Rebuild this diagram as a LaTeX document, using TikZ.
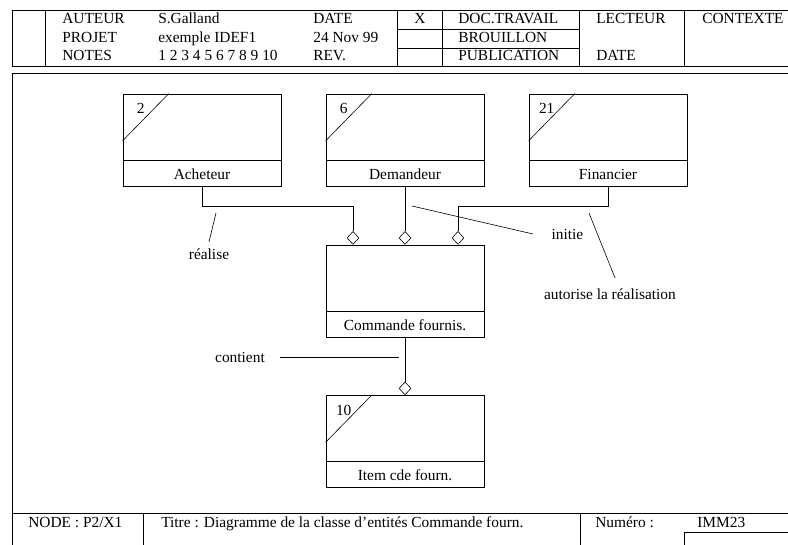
\documentclass[tikz,border=0pt]{standalone}
\usepackage{fontspec}
\setmainfont{Liberation Serif}
\usetikzlibrary{calc,positioning,shapes.geometric}
\tikzset{
	entite/.style={draw, rectangle, inner sep=0pt, minimum width=158pt, minimum height=92pt},
	losange/.style={draw, diamond, fill=white, inner sep=0pt, minimum width=12pt, minimum height=13pt},
	cadre/.style={anchor=base west, inner sep=0pt},
}
\def\entite(#1)(#2,#3)#4#5{%
	\node[entite] (#1) at (#2,#3) {};
	\draw ($(#1.south west)+(0,-26)$) -- ($(#1.south east)+(0,-26)$);
	\draw ($(#1.north west)+(46,0)$) -- ($(#1.north west)+(0,47)$);
	\node (#1-num) at ($(#1.north west)+(18,15)$) {#4};
	\node[text height=10pt, text depth=3pt] (#1-nom) at ($(#1.south)+(0,-10.5)$) {#5};
}

\begin{document}
\begin{tikzpicture}[x=1pt, y=-1pt, line width=0.6pt, font=\fontsize{15.4}{18}\selectfont]
		%%%%% START %%%%%
		\useasboundingbox (0,0) rectangle (788,545);
		
		% cartouche du haut
		\draw (12, 10) rectangle (800, 66);
		\draw (45, 10) -- (45, 66);
		\draw (397, 10) -- (397, 66);
		\draw (442, 10) -- (442, 66);
		\draw (579, 10) -- (579, 66);
		\draw (684, 10) -- (684, 66);
		\draw (397, 29) -- (579, 29);
		\draw (397, 48) -- (579, 48);
		
		\node[cadre] (aut) at (62, 24) {AUTEUR};
		\node[cadre] (aut-v) at (158, 24) {S.Galland};
		\node[cadre] (dat) at (313, 24) {DATE};
		\node[cadre] (prj) at (62, 42.5) {PROJET};
		\node[cadre] (prj-v) at (158, 42.5) {exemple IDEF1};
		\node[cadre] (dat-v) at (313, 42.5) {24 Nov 99};
		\node[cadre] (not) at (62, 61) {NOTES};
		\node[cadre] (not-v) at (158, 61) {1 2 3 4 5 6 7 8 9 10};
		\node[cadre] (rev) at (313, 61) {REV.};
		\node[cadre, anchor=base] (x) at (420, 24) {X};
		\node[cadre] (trav) at (458, 24) {DOC.TRAVAIL};
		\node[cadre] (brou) at (458, 42.5) {BROUILLON};
		\node[cadre] (pub) at (458, 61) {PUBLICATION};
		\node[cadre] (lect) at (596, 24) {LECTEUR};
		\node[cadre] (lect-d) at (596, 61) {DATE};
		\node[cadre] (ctx) at (702, 24) {CONTEXTE};
		
		% cadre principal et cartouche du bas
		\draw (800, 73) -- (12, 73) -- (12, 560);
		\draw (12, 513) -- (800, 513);
		\draw (143, 513) -- (143, 560);
		\draw (580, 513) -- (580, 560);
		\draw (684, 560) -- (684, 532) -- (800, 532);
		
		\node[cadre] (noeud) at (28, 527) {NODE : P2/X1};
		\node[cadre] (titre) at (161, 527) {Titre : Diagramme de la classe d'entit\'es Commande fourn.};
		\node[cadre] (num) at (595, 527) {Num\'ero :};
		\node[cadre] (num-v) at (697, 527) {IMM23};
		
		% entites
		\entite(ach)(202, 140){2}{Acheteur}
		\entite(dem)(405, 140){6}{Demandeur}
		\entite(fin)(608, 140){21}{Financier}
		\entite(item)(405, 441.5){10}{Item cde fourn.}
		
		\node[entite] (cmd) at (405, 291) {};
		\draw ($(cmd.south west)+(0,-26)$) -- ($(cmd.south east)+(0,-26)$);
		\node[text height=10pt, text depth=3pt] (cmd-nom) at ($(cmd.south)+(0,-10.5)$) {Commande fournis.};
		
		% relations
		\node[losange, anchor=south] (d1) at ([xshift=-52pt]cmd.north) {};
		\node[losange, anchor=south] (d2) at (cmd.north) {};
		\node[losange, anchor=south] (d3) at ([xshift=53pt]cmd.north) {};
		\node[losange, anchor=south] (d4) at (item.north) {};
		
		\draw (ach.south) -- ++(0, 20) -| (d1.north);
		\draw (dem.south) -- (d2.north);
		\draw (fin.south) -- ++(0, 20) -| (d3.north);
		\draw (cmd.south) -- (d4.north);
		
		% libelles
		\node (rea) at (209, 254) {r\'ealise};
		\coordinate (rea-a) at (216, 213);
		\draw (rea-a) -- ([yshift=3pt]rea.north);
		
		\node[anchor=west] (ini) at (548, 234) {initie};
		\coordinate (ini-a) at (412, 206);
		\draw (ini-a) -- ([xshift=-15pt]ini.west);
		
		\node (autr) at (610, 294) {autorise la r\'ealisation};
		\coordinate (autr-a) at (589, 213);
		\draw (autr-a) -- ([shift={(5pt,7pt)}]autr.north);
		
		\node (cont) at (240, 357) {contient};
		\coordinate (cont-a) at (399, 357);
		\draw ([xshift=12pt]cont.east) -- (cont-a);
		
		%%%%% END %%%%%
	\end{tikzpicture}
\end{document}
